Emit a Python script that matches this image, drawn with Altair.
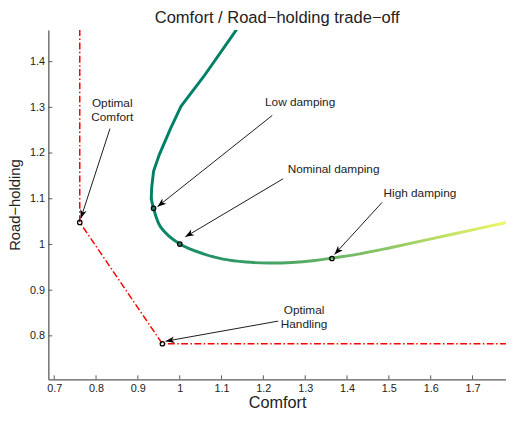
import math
import altair as alt
import pandas as pd

# ---------------- data ----------------
TITLE = "Comfort / Road−holding trade−off"

# trade-off curve, from the top of the plot down to its leftmost point, then to the right
curve_x = [1.135, 1.057, 1.003, 0.978, 0.951, 0.9375, 0.933, 0.932,
           0.9375, 0.9546, 1.0003, 1.0567, 1.1037, 1.1585, 1.2133, 1.2683,
           1.3231, 1.3638, 1.4171, 1.5034, 1.66, 1.778]
curve_y = [1.469, 1.367, 1.302, 1.2535, 1.196, 1.16, 1.124, 1.10,
           1.079, 1.038, 1.001, 0.9794, 0.968, 0.9615, 0.9593, 0.9606,
           0.9649, 0.9701, 0.9772, 0.9929, 1.024, 1.0476]
split = 7  # index of the leftmost point (end of the dark upper branch)

# optimal bound (red dash-dot)
bound_x = [0.7611, 0.7611, 0.9586, 1.80]
bound_y = [1.50, 1.0483, 0.7827, 0.7827]

# circled points
mark_x = [0.7611, 0.9586, 0.9375, 1.0002, 1.3638]
mark_y = [1.0483, 0.7827, 1.079, 1.0009, 0.9693]

# annotations (y is the centre of the first text line)
ann_text = ["Optimal\nComfort", "Low damping", "Nominal damping", "High damping", "Optimal\nHandling"]
ann_x = [0.8387, 1.2878, 1.3678, 1.5742, 1.2972]
ann_y = [1.3095, 1.311, 1.164, 1.1114, 0.8566]
arrow_x0 = [0.8333, 1.2213, 1.2471, 1.4837, 1.2354]
arrow_y0 = [1.2535, 1.2824, 1.1437, 1.092, 0.8323]
arrow_x1 = [0.7635, 0.9469, 1.0134, 1.3701, 0.9664]
arrow_y1 = [1.0569, 1.0827, 1.0166, 0.9782, 0.7883]

x_ticks = [0.7, 0.8, 0.9, 1.0, 1.1, 1.2, 1.3, 1.4, 1.5, 1.6, 1.7]
y_ticks = [0.8, 0.9, 1.0, 1.1, 1.2, 1.3, 1.4]

# ---------------- layout ----------------
W, H = 465, 355
X_DOM = [0.686, 1.78]
Y_DOM = [0.705, 1.4695]
FONT = "Liberation Sans"
AX = "#5a5a5a"
TXT = "#222222"

xscale = alt.Scale(domain=X_DOM, nice=False, zero=False)
yscale = alt.Scale(domain=Y_DOM, nice=False, zero=False)
xaxis = alt.Axis(values=x_ticks, format="~g", ticks=False, grid=False, labelPadding=3,
                 title="Comfort", titleFontSize=16.5, titleY=28.7, titleBaseline="alphabetic")
yaxis = alt.Axis(values=y_ticks, format="~g", ticks=False, grid=False, labelPadding=4,
                 title="Road−holding", titleFontSize=15, titleX=-29, titleY=H / 2,
                 titleAngle=-90, titleBaseline="alphabetic", titleAlign="center")


def X(f="x"):
    return alt.X(f"{f}:Q", scale=xscale, axis=xaxis)


def Y(f="y"):
    return alt.Y(f"{f}:Q", scale=yscale, axis=yaxis)


upper = pd.DataFrame({"x": curve_x[:split + 1], "y": curve_y[:split + 1],
                      "i": list(range(split + 1))})
lower = pd.DataFrame({"x": curve_x[split:], "y": curve_y[split:],
                      "i": list(range(len(curve_x) - split))})
bound = pd.DataFrame({"x": bound_x, "y": bound_y, "i": list(range(len(bound_x)))})
marks = pd.DataFrame({"x": mark_x, "y": mark_y})
ann = pd.DataFrame({"x": ann_x, "y": ann_y, "t": ann_text})
title_df = pd.DataFrame({"t": [TITLE]})

xpx = W / (X_DOM[1] - X_DOM[0])
ypx = H / (Y_DOM[1] - Y_DOM[0])
angles = []
for a, b, c, d in zip(arrow_x0, arrow_y0, arrow_x1, arrow_y1):
    dx = (c - a) * xpx
    dy = -(d - b) * ypx
    angles.append(math.degrees(math.atan2(dx, -dy)) % 360)
arrows = pd.DataFrame({"x": arrow_x0, "y": arrow_y0, "x2": arrow_x1, "y2": arrow_y1,
                       "ang": angles})
xt = pd.DataFrame({"x": x_ticks})
yt = pd.DataFrame({"y": y_ticks})

bound_layer = alt.Chart(bound).mark_line(
    color="#ff0000", strokeWidth=1.5, strokeDash=[7, 2.5, 1.5, 2.5], clip=True
).encode(x=X(), y=Y(), order="i:Q")

upper_layer = alt.Chart(upper).mark_line(
    stroke="#008066", strokeWidth=3, strokeJoin="round", strokeCap="round", clip=True
).encode(x=X(), y=Y(), order="i:Q")

grad = alt.Gradient(
    gradient="linear", x1=0, x2=1, y1=0, y2=0,
    stops=[
        alt.GradientStop(offset=0.0, color="#008066"),
        alt.GradientStop(offset=0.08, color="#168b66"),
        alt.GradientStop(offset=0.32, color="#40a066"),
        alt.GradientStop(offset=0.51, color="#68b466"),
        alt.GradientStop(offset=0.67, color="#8fc766"),
        alt.GradientStop(offset=0.86, color="#c8e466"),
        alt.GradientStop(offset=1.0, color="#eef766"),
    ],
)
lower_layer = alt.Chart(lower).mark_line(
    stroke=grad, strokeWidth=3, strokeJoin="round", strokeCap="round", clip=True,
    interpolate="catmull-rom"
).encode(x=X(), y=Y(), order="i:Q")

mark_layer = alt.Chart(marks).mark_point(
    shape="circle", filled=False, color="#000000", size=20, strokeWidth=1.3, opacity=1
).encode(x=X(), y=Y())

arrow_layer = alt.Chart(arrows).mark_rule(color="#000000", strokeWidth=0.9).encode(
    x=X(), y=Y(), x2="x2:Q", y2="y2:Q")

head_layer = alt.Chart(arrows).mark_point(
    shape="M0,0L-0.6,1.6L0,1.15L0.6,1.6Z", filled=True, color="#000000",
    size=125, opacity=1, strokeWidth=0
).encode(x=alt.X("x2:Q", scale=xscale, axis=xaxis), y=alt.Y("y2:Q", scale=yscale, axis=yaxis),
         angle=alt.Angle("ang:Q", scale=None))

text_layer = alt.Chart(ann).mark_text(
    font=FONT, fontSize=12, color=TXT, lineBreak="\n", lineHeight=14.5,
    align="center", baseline="middle"
).encode(x=X(), y=Y(), text="t:N")

title_layer = alt.Chart(title_df).mark_text(
    font=FONT, fontSize=16.8, color=TXT, align="center", baseline="alphabetic"
).encode(x=alt.value(W / 2), y=alt.value(-6.5), text="t:N")

ytick_layer = alt.Chart(yt).mark_rule(color=AX, strokeWidth=1).encode(
    y=Y(), x=alt.value(0), x2=alt.value(4))
xtick_layer = alt.Chart(xt).mark_rule(color=AX, strokeWidth=1).encode(
    x=X(), y=alt.value(H), y2=alt.value(H - 4))

chart = alt.layer(
    bound_layer, upper_layer, lower_layer, arrow_layer, head_layer, mark_layer,
    text_layer, ytick_layer, xtick_layer, title_layer
).properties(
    width=W, height=H,
    autosize=alt.AutoSizeParams(type="none"),
    padding={"left": 41, "top": 19, "right": 0, "bottom": 29},
).configure_view(strokeWidth=0).configure_axis(
    domainColor=AX, domainWidth=1.3, labelFont=FONT, labelFontSize=11, labelColor=TXT,
    titleFont=FONT, titleFontWeight="normal", titleColor=TXT
)

chart.save("out.html", embed_options={"renderer": "svg", "actions": False})
